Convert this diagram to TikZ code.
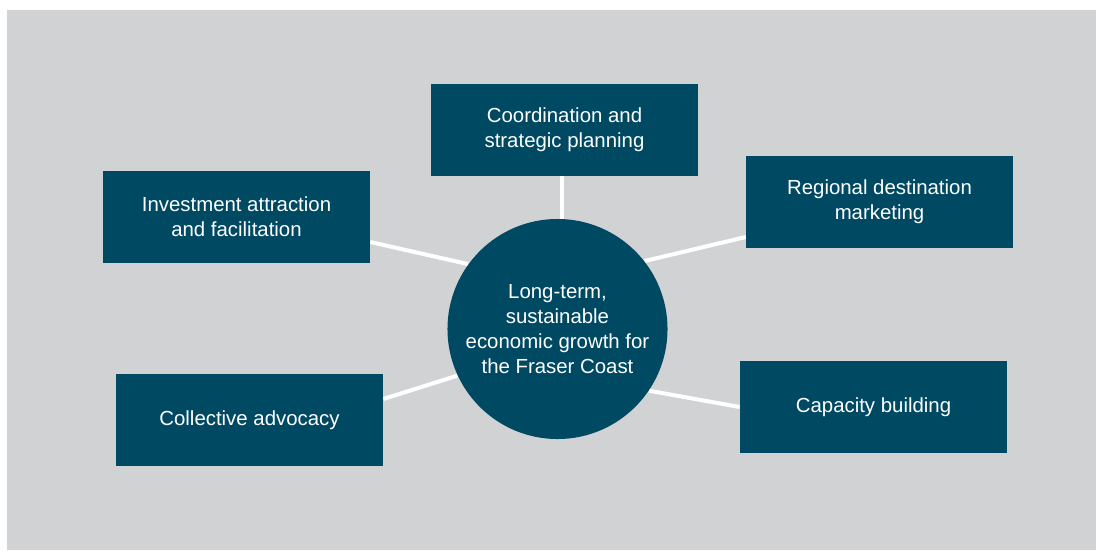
\documentclass[tikz,border=0pt]{standalone}
\usepackage{fontspec}
\setmainfont{Liberation Sans}
\usetikzlibrary{calc}

\definecolor{fcblue}{RGB}{0,73,98}
\definecolor{fcgrey}{RGB}{209,210,212}

\pgfdeclarelayer{canvas}
\pgfdeclarelayer{links}
\pgfsetlayers{canvas,links,main}

\begin{document}
\begin{tikzpicture}[x=0.025cm, y=-0.025cm,
  roles/.style={rectangle, fill=fcblue, text=white, inner sep=0pt,
    minimum width=6.675cm, minimum height=2.3cm, align=center,
    font=\fontsize{14.5pt}{17.8pt}\selectfont},
  hubnode/.style={circle, fill=fcblue, text=white, inner sep=0pt,
    minimum size=5.5cm, align=center,
    font=\fontsize{14.5pt}{17.8pt}\selectfont},
  link/.style={white, line width=2.85pt}]

\def\width{1096}
\def\height{552}

\useasboundingbox (0,0) rectangle (\width,\height);

% BACKDROP
\begin{pgfonlayer}{canvas}
\fill [fcgrey] (7,10) rectangle (\width,550);
\end{pgfonlayer}

% ROLES
\node [roles] (coord)    at (564.5,130) {Coordination and\\strategic planning};
\node [roles] (invest)   at (236.5,217) {Investment attraction\\and facilitation};
\node [roles] (region)   at (879.5,202) {Regional destination\\marketing};
\node [roles] (advocacy) at (249.5,420) {Collective advocacy};
\node [roles] (capacity) at (873.5,407) {Capacity building};

% OUTCOME
\node [hubnode] (hub) at (557.5,329) {Long-term,\\sustainable\\economic growth for\\the Fraser Coast};

% LINKS
\begin{pgfonlayer}{links}
\draw [link] ([xshift=-0.075cm]coord.south) -- ([xshift=-0.075cm]coord.south |- hub.center);
\draw [link] ([yshift=-0.625cm]invest.east) -- (hub.144);
\draw [link] ([yshift=-0.875cm]region.west) -- (hub.38);
\draw [link] ([yshift=0.525cm]advocacy.east) -- (hub.205);
\draw [link] (capacity.west) -- (hub.326);
\end{pgfonlayer}

\end{tikzpicture}
\end{document}
